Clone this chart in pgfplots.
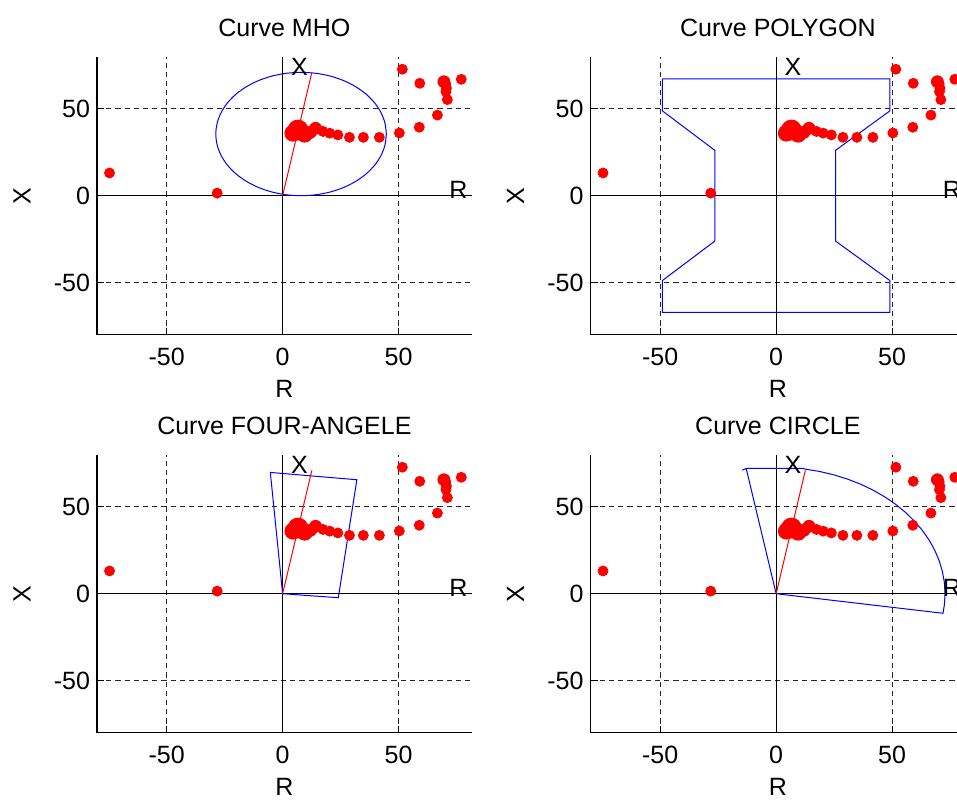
\documentclass[border=0pt]{standalone}
\usepackage{fontspec}
\setmainfont{Liberation Sans}
\usepackage{pgfplots}
\pgfplotsset{compat=1.18}
\usepackage{pgfplotstable}

% Measured impedance points (R, X)
\pgfplotstableread{
x y
-74.6 13.1
-28.2 1.5
17.4 37.0
20.3 36.0
23.8 35.0
28.8 33.6
34.8 33.6
41.7 33.6
50.3 36.1
58.9 39.4
66.7 46.4
71.0 55.3
70.4 59.9
70.6 61.9
70.3 64.3
59.1 64.7
51.6 72.8
77.0 67.0
}\dotsSmall
\pgfplotstableread{
x y
14.2 38.8
12.0 36.5
69.5 65.6
}\dotsMid
\pgfplotstableread{
x y
4.4 36.0
9.5 35.4
}\dotsBig
\pgfplotstableread{
x y
6.6 37.8
}\dotsHuge

\newcommand{\fs}{\fontsize{12.5}{14}\selectfont}

\pgfplotsset{
  panel/.style={
    scale only axis, width=187.35pt, height=139pt,
    xmin=-80, xmax=81.5, ymin=-80, ymax=80,
    clip=false,
    axis x line*=bottom, axis y line*=left,
    axis line style={-, black, line width=0.6pt},
    xtick={-50,0,50}, ytick={-50,0,50},
    xticklabels={-50,0,50}, yticklabels={-50,0,50},
    tick align=inside, major tick length=3.5pt,
    tick style={black, line width=0.6pt},
    grid=major,
    major grid style={black!85, dash pattern=on 2.6pt off 2pt, line width=0.6pt},
    tick label style={font=\fs},
    xticklabel style={anchor=base, yshift=-15.5pt},
    xlabel=R, ylabel=X,
    every axis x label/.style={at={(axis description cs:0.5,-0.226)}, anchor=base, inner sep=1pt, font=\fs},
    every axis y label/.style={at={(axis description cs:-0.2,0.5)}, anchor=center, rotate=90, font=\fs},
    every axis title/.style={at={(axis description cs:0.5,1)}, anchor=base, yshift=10pt, font=\fs},
  },
  zone/.style={blue, line width=0.5pt, mark=none},
  reach/.style={red, line width=0.5pt, mark=none},
}

\newcommand{\zeroaxes}{%
  \addplot[black, line width=0.55pt, mark=none] coordinates {(-80,0) (81.5,0)};
  \addplot[black, line width=0.55pt, mark=none] coordinates {(0,-80) (0,80)};
}
\newcommand{\reachline}{%
  \addplot[reach] coordinates {(0,0) (12.6,71.0)};
}
\newcommand{\points}{%
  \addplot[only marks, mark=*, red, mark size=2.5pt] table {\dotsSmall};
  \addplot[only marks, mark=*, red, mark size=3pt] table {\dotsMid};
  \addplot[only marks, mark=*, red, mark size=4pt] table {\dotsBig};
  \addplot[only marks, mark=*, red, mark size=5pt] table {\dotsHuge};
}
\newcommand{\axletters}{%
  \node[font=\fs, inner sep=0pt] at (axis cs:7.3,74.3) {X};
  \node[font=\fs, inner sep=0pt] at (axis cs:75.8,3.3) {R};
}

\begin{document}
\begin{tikzpicture}
\path[use as bounding box] (0,0) rectangle (478.5pt,399.5pt);

% ---- MHO characteristic
\begin{axis}[panel, title={Curve MHO}, at={(48.5pt,232.15pt)}, anchor=south west]
\zeroaxes
\addplot[zone, smooth] coordinates {
(44.70,35.50) (44.14,41.66) (42.48,47.64) (39.78,53.25) (36.10,58.32)
(31.57,62.69) (26.33,66.24) (20.52,68.86) (14.33,70.46) (7.95,71.00)
(1.57,70.46) (-4.62,68.86) (-10.43,66.24) (-15.67,62.69) (-20.20,58.32)
(-23.88,53.25) (-26.58,47.64) (-28.24,41.66) (-28.80,35.50) (-28.24,29.34)
(-26.58,23.36) (-23.88,17.75) (-20.20,12.68) (-15.67,8.31) (-10.43,4.76)
(-4.62,2.14) (1.57,0.54) (7.95,0.00) (14.33,0.54) (20.52,2.14)
(26.33,4.76) (31.57,8.31) (36.10,12.68) (39.78,17.75) (42.48,23.36)
(44.14,29.34) (44.70,35.50)
};
\reachline
\points
\axletters
\end{axis}

% ---- Polygon characteristic
\begin{axis}[panel, title={Curve POLYGON}, at={(295.25pt,232.15pt)}, anchor=south west]
\zeroaxes
\addplot[zone] coordinates {
(-49,67.2) (49,67.2) (49,48.8) (25.6,26.1) (25.6,-26.1) (49,-48.8)
(49,-67.2) (-49,-67.2) (-49,-48.8) (-26.4,-26.1) (-26.4,26.1) (-49,48.8) (-49,67.2)
};
\points
\axletters
\end{axis}

% ---- Quadrilateral characteristic
\begin{axis}[panel, title={Curve FOUR-ANGELE}, at={(48.5pt,33.15pt)}, anchor=south west]
\zeroaxes
\addplot[zone] coordinates {(0,0) (24.0,-2.3) (32.0,65.6) (-5.3,69.8) (0,0)};
\reachline
\points
\axletters
\end{axis}

% ---- Circular sector characteristic
\begin{axis}[panel, title={Curve CIRCLE}, at={(295.25pt,33.15pt)}, anchor=south west]
\zeroaxes
\addplot[zone] coordinates {
(-14.6,71.1) (-12.9,72.1) (11.4,72.1) (12.64,71.69) (18.84,70.32) (24.90,68.41)
(30.77,65.98) (36.40,63.05) (41.76,59.63) (46.80,55.77) (51.48,51.48)
(55.77,46.80) (59.63,41.76) (63.05,36.40) (65.98,30.77) (68.41,24.90)
(70.32,18.84) (71.69,12.64) (72.52,6.35) (72.8,0) (72.52,-6.35) (71.92,-11.26)
(0,0) (-12.9,72.1)
};
\reachline
\points
\axletters
\end{axis}
\end{tikzpicture}
\end{document}
